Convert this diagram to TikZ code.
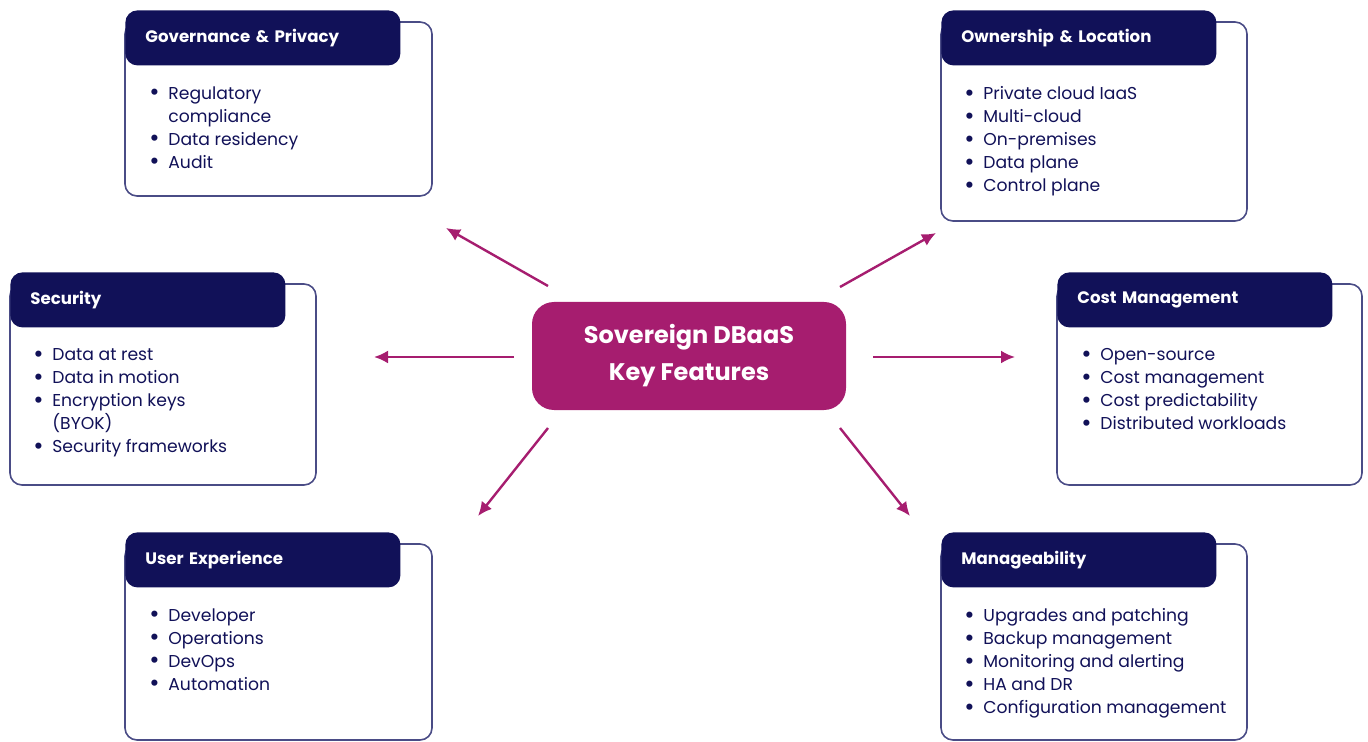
\documentclass[tikz,border=0pt]{standalone}
\usepackage{fontspec}
\setmainfont{Poppins}
\usepackage{xcolor}
\usetikzlibrary{arrows.meta,positioning,calc}
\definecolor{navy}{HTML}{111158}
\definecolor{frame}{HTML}{4A4C86}
\definecolor{berry}{HTML}{A61D6F}
\newcommand{\feat}[1]{\makebox[9.5pt][l]{\raisebox{-0.9pt}{\fontsize{12.5}{11.5}\selectfont\textbullet}}#1}
\newcommand{\cont}[1]{\hspace*{9.5pt}#1}

\begin{document}
\begin{tikzpicture}[
  x=0.5pt,y=-0.5pt,>=Latex,
  flow/.style={-{Latex[length=7pt,width=6.5pt]},line width=1.2pt,draw=berry},
  card/.style={draw=frame,line width=0.8pt,rounded corners=6pt,fill=white},
  head/.style={fill=navy,text=white,rounded corners=6pt,anchor=north west,
    minimum width=137.5pt,minimum height=27.5pt,text width=117.5pt,
    inner xsep=10pt,align=left,font=\fontsize{8.3}{10}\selectfont\bfseries},
  items/.style={anchor=north west,inner sep=0pt,align=left,text=navy,
    font=\fontsize{8.6}{11.5}\selectfont},
  hub/.style={fill=berry,text=white,rounded corners=11pt,minimum width=157pt,
    minimum height=54pt,align=center,font=\fontsize{12}{18.5}\selectfont\bfseries}
]
  \useasboundingbox (0,0) rectangle (1368,742);

  \node[hub] (hub) at (689,356) {Sovereign DBaaS\\Key Features};

  \draw[card] (125,22) rectangle (432,196);
  \node[head] (gov) at (125,10) {Governance \& Privacy};
  \node[items] (govlist) at (149,86) {\feat{Regulatory}\\\cont{compliance}\\
    \feat{Data residency}\\\feat{Audit}};

  \draw[card] (941,22) rectangle (1247,221);
  \node[head] (own) at (941,10) {Ownership \& Location};
  \node[items] (ownlist) at (964,86) {\feat{Private cloud IaaS}\\\feat{Multi-cloud}\\
    \feat{On-premises}\\\feat{Data plane}\\\feat{Control plane}};

  \draw[card] (10,284) rectangle (316,485);
  \node[head] (sec) at (10,272) {Security};
  \node[items] (seclist) at (33,348) {\feat{Data at rest}\\\feat{Data in motion}\\
    \feat{Encryption keys}\\\cont{(BYOK)}\\\feat{Security frameworks}};

  \draw[card] (1057,284) rectangle (1362,485);
  \node[head] (cost) at (1057,272) {Cost Management};
  \node[items] (costlist) at (1081,348) {\feat{Open-source}\\\feat{Cost management}\\
    \feat{Cost predictability}\\\feat{Distributed workloads}};

  \draw[card] (125,544) rectangle (432,740);
  \node[head] (ux) at (125,532) {User Experience};
  \node[items] (uxlist) at (149,608) {\feat{Developer}\\\feat{Operations}\\
    \feat{DevOps}\\\feat{Automation}};

  \draw[card] (941,544) rectangle (1247,740);
  \node[head] (mgmt) at (941,532) {Manageability};
  \node[items] (mgmtlist) at (964,608) {\feat{Upgrades and patching}\\
    \feat{Backup management}\\\feat{Monitoring and alerting}\\
    \feat{HA and DR}\\\feat{Configuration management}};

  \coordinate (govfrom) at (548,286);
  \coordinate (govto) at (446,228);
  \coordinate (secfrom) at (514,357);
  \coordinate (secto) at (374,357);
  \coordinate (uxfrom) at (548,428);
  \coordinate (uxto) at (478,516);
  \coordinate (ownfrom) at (840,287);
  \coordinate (ownto) at (936,233);
  \coordinate (costfrom) at (873,357);
  \coordinate (costto) at (1015,357);
  \coordinate (mgmtfrom) at (840,428);
  \coordinate (mgmtto) at (910,516);
  \draw[flow] (govfrom) -- (govto);
  \draw[flow] (secfrom) -- (secto);
  \draw[flow] (uxfrom) -- (uxto);
  \draw[flow] (ownfrom) -- (ownto);
  \draw[flow] (costfrom) -- (costto);
  \draw[flow] (mgmtfrom) -- (mgmtto);
\end{tikzpicture}
\end{document}
